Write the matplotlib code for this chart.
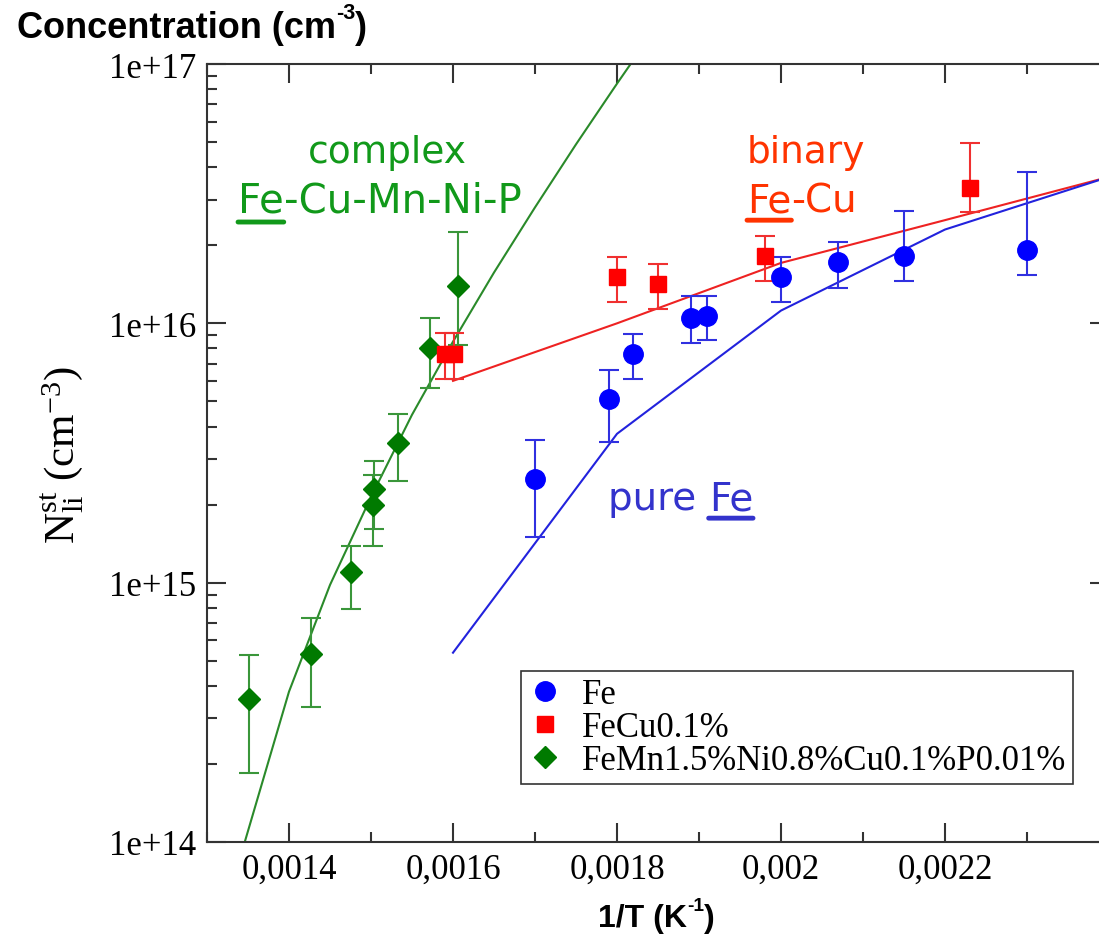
import matplotlib
matplotlib.use('Agg')
import matplotlib.pyplot as plt
from matplotlib.lines import Line2D
from matplotlib.ticker import FixedLocator, FuncFormatter, LogLocator, NullFormatter

plt.rcParams['font.family'] = ['Liberation Serif', 'DejaVu Serif']
plt.rcParams['mathtext.fontset'] = 'custom'
plt.rcParams['mathtext.rm'] = 'Liberation Serif'
plt.rcParams['mathtext.it'] = 'Liberation Serif:italic'

# measured points (1/T in K^-1, concentration in cm^-3)
fe_x = [0.00170, 0.00179, 0.00182, 0.00189, 0.00191, 0.00200, 0.00207, 0.00215, 0.00230]
fe_y = [2.5e15, 5.1e15, 7.6e15, 1.05e16, 1.07e16, 1.51e16, 1.72e16, 1.82e16, 1.91e16]
fe_lo = [1.5e15, 3.5e15, 6.1e15, 8.4e15, 8.6e15, 1.21e16, 1.37e16, 1.45e16, 1.54e16]
fe_hi = [3.56e15, 6.6e15, 9.1e15, 1.27e16, 1.28e16, 1.81e16, 2.06e16, 2.72e16, 3.83e16]

fecu_x = [0.001590, 0.001601, 0.00180, 0.00185, 0.00198, 0.00223]
fecu_y = [7.6e15, 7.6e15, 1.51e16, 1.42e16, 1.82e16, 3.32e16]
fecu_lo = [6.1e15, 6.1e15, 1.21e16, 1.14e16, 1.46e16, 2.69e16]
fecu_hi = [9.2e15, 9.2e15, 1.81e16, 1.69e16, 2.17e16, 4.97e16]

cplx_x = [0.001351, 0.001427, 0.001475, 0.001503, 0.001504, 0.001533, 0.001572, 0.001606]
cplx_y = [3.55e14, 5.3e14, 1.1e15, 1.99e15, 2.29e15, 3.47e15, 8.05e15, 1.39e16]
cplx_lo = [1.84e14, 3.32e14, 7.9e14, 1.39e15, 1.61e15, 2.47e15, 5.62e15, 8.28e15]
cplx_hi = [5.25e14, 7.33e14, 1.39e15, 2.61e15, 2.94e15, 4.48e15, 1.05e16, 2.25e16]

# model curves
fe_line_x = [0.0016, 0.0018, 0.0020, 0.0022, 0.0024]
fe_line_y = [5.37e14, 3.75e15, 1.12e16, 2.30e16, 3.67e16]
fecu_line_x = [0.0016, 0.0018, 0.0020, 0.0022, 0.0024]
fecu_line_y = [6.0e15, 1.0e16, 1.71e16, 2.5e16, 3.67e16]
cplx_line_x = [0.0013, 0.0014, 0.00145, 0.0015, 0.00155, 0.0016, 0.00165, 0.0017, 0.00175,
               0.0018, 0.0019]
cplx_line_y = [3.2e13, 3.8e14, 9.8e14, 2.14e15, 4.44e15, 8.5e15, 1.57e16, 2.8e16, 4.9e16,
               8.4e16, 2.4e17]

labels = ['Fe', 'FeCu0.1%', 'FeMn1.5%Ni0.8%Cu0.1%P0.01%']

fig = plt.figure(figsize=(10.99, 9.37), dpi=100)
ax = fig.add_axes([207 / 1099, 94 / 937, 902 / 1099, 778 / 937])
ax.set_yscale('log')
ax.set_xlim(0.0013, 0.0024)
ax.set_ylim(1e14, 1e17)

def err(y, lo, hi):
    return [[a - b for a, b in zip(y, lo)], [b - a for a, b in zip(y, hi)]]

# model lines
ax.plot(cplx_line_x, cplx_line_y, color='#2a8a2a', lw=1.5, zorder=2)
ax.plot(fecu_line_x, fecu_line_y, color='#ee2222', lw=1.5, zorder=2)
ax.plot(fe_line_x, fe_line_y, color='#2222dd', lw=1.5, zorder=2)

ax.errorbar(cplx_x, cplx_y, yerr=err(cplx_y, cplx_lo, cplx_hi), fmt='D', ms=11.5,
            color='#007a00', ecolor='#3a963a', elinewidth=1.5, capsize=7, capthick=1.5, zorder=3)
ax.errorbar(fecu_x, fecu_y, yerr=err(fecu_y, fecu_lo, fecu_hi), fmt='s', ms=12,
            color='#ff0000', ecolor='#f03030', elinewidth=1.5, capsize=7, capthick=1.5, zorder=3)
ax.errorbar(fe_x, fe_y, yerr=err(fe_y, fe_lo, fe_hi), fmt='o', ms=14,
            color='#0000ff', ecolor='#3030e0', elinewidth=1.5, capsize=7, capthick=1.5, zorder=3)

# ticks
ax.xaxis.set_major_locator(FixedLocator([0.0014, 0.0016, 0.0018, 0.0020, 0.0022]))
ax.xaxis.set_minor_locator(FixedLocator([0.0013, 0.0015, 0.0017, 0.0019, 0.0021, 0.0023]))
ax.xaxis.set_major_formatter(FuncFormatter(lambda v, p: f'{v:g}'.replace('.', ',')))
ax.yaxis.set_major_locator(LogLocator(base=10, numticks=10))
ax.yaxis.set_minor_locator(LogLocator(base=10, subs=range(2, 10), numticks=20))
ax.yaxis.set_minor_formatter(NullFormatter())
ax.yaxis.set_major_formatter(FuncFormatter(lambda v, p: f'{v:.0e}'))
ax.tick_params(which='both', direction='in', top=True, right=True, width=1.5, color='#333333')
ax.tick_params(which='major', length=14, labelsize=25, pad=8)
ax.tick_params(which='minor', length=7.5)
for s in ax.spines.values():
    s.set_linewidth(1.5)
    s.set_color('#333333')

# legend
handles = [Line2D([], [], ls='', marker='o', ms=14, color='#0000ff'),
           Line2D([], [], ls='', marker='s', ms=11, color='#ff0000'),
           Line2D([], [], ls='', marker='D', ms=11.5, color='#007a00')]
leg = ax.legend(handles, labels, loc='lower left', bbox_to_anchor=(0.348, 0.0746),
                fontsize=25, frameon=True, fancybox=False, labelspacing=0.0,
                handletextpad=0.55, handlelength=1.0, borderpad=0.2, borderaxespad=0,
                handleheight=0.6)
leg.get_frame().set_edgecolor('black')
leg.get_frame().set_linewidth(1.2)

# annotations with underlined "Fe"
def tagged(x, y, pre, post, color, size=27):
    kw = dict(fontsize=size, color=color, family='DejaVu Sans')
    if pre:
        first = ax.text(x, y, pre, transform=ax.transAxes, ha='left', va='baseline', **kw)
        t_fe = ax.annotate('Fe', xy=(1, 0), xycoords=first, ha='left', va='bottom', **kw)
    else:
        t_fe = ax.text(x, y, 'Fe', transform=ax.transAxes, ha='left', va='baseline', **kw)
    if post:
        ax.annotate(post, xy=(1, 0), xycoords=t_fe, ha='left', va='bottom', **kw)
    ax.annotate('', xy=(0.0, -0.03), xycoords=t_fe, xytext=(1.0, -0.03), textcoords=t_fe,
                arrowprops=dict(arrowstyle='-', lw=3.5, color=color, shrinkA=0, shrinkB=0))

ax.text(0.1996, 0.874, 'complex', transform=ax.transAxes, ha='center', va='baseline',
        fontsize=27, color='#11991a', family='DejaVu Sans')
tagged(0.0344, 0.81, '', '-Cu-Mn-Ni-P', '#11991a', size=29)
ax.text(0.5987, 0.874, 'binary', transform=ax.transAxes, ha='left', va='baseline',
        fontsize=27, color='#ff3300', family='DejaVu Sans')
tagged(0.5987, 0.811, '', '-Cu', '#ff3300', size=28)
tagged(0.4446, 0.428, 'pure ', '', '#3333cc', size=28)

# axis titles, superscripts as small raised text
def sup_label(x, y, base, sup, size):
    kw = dict(fontweight='bold', family='Liberation Sans')
    t = fig.text(x, y, base, ha='left', va='baseline', fontsize=size, **kw)
    s = plt.annotate(sup, xy=(1, 0.62), xycoords=t, ha='left', va='bottom',
                     fontsize=size * 0.6, annotation_clip=False, **kw)
    plt.annotate(')', xy=(1, 0), xycoords=(s, t), ha='left', va='bottom',
                 fontsize=size, annotation_clip=False, **kw)

sup_label(17 / 1099, 1 - 38 / 937, 'Concentration (cm', '-3', 26)
sup_label(598 / 1099, 10 / 937, '1/T (K', '-1', 23)

fig.text(62 / 1099, 1 - 455 / 937, r'N$_{\mathrm{li}}^{\mathrm{st}}$ (cm$^{-3}$)', rotation=90,
         ha='center', va='center', fontsize=31)

fig.savefig('out.png', dpi=100)
